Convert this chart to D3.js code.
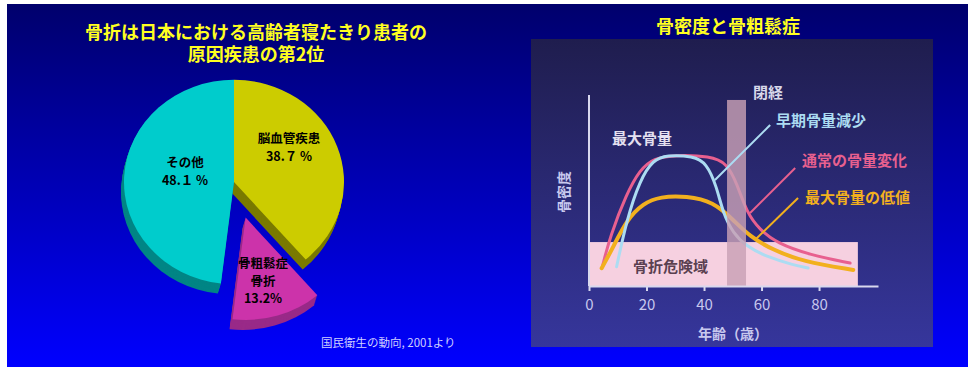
<!DOCTYPE html>
<html><head><meta charset="utf-8">
<script src="https://cdn.jsdelivr.net/npm/d3@7"></script>
<style>body{margin:0;background:#fff}svg{display:block}</style>
</head><body>
<svg id="c" width="969" height="368"></svg>
<script>
// ---------- data ----------
const pieCategories = ["脳血管疾患", "骨粗鬆症骨折", "その他"];
const pieValues = [38.7, 13.2, 48.1];
const pieLabels = [["脳血管疾患", "38.７ %"], ["骨粗鬆症", "骨折", "13.2%"], ["その他", "48.１ %"]];
const pieColors = ["#cccc00", "#cc33aa", "#00cccc"];
const pieDark = ["#7a7a00", "#992a88", "#008585"];

const xTicks = [0, 20, 40, 60, 80];
const normalAge = [4.8, 7.3, 13.1, 17.7, 22.3, 30.5, 42.1, 47.9, 51.4, 54.9, 59.5, 65.3, 76.9, 90.8];
const normalVal = [11, 25.8, 48.5, 60.7, 67, 68.6, 68, 64.4, 53.9, 38.2, 29.3, 22.5, 16.2, 12];
const earlyAge = [9.6, 13.1, 17.7, 22.3, 27, 36.2, 40.9, 44.4, 46.6, 50.1, 54.9, 61.8, 71, 76.2];
const earlyVal = [10.1, 34.6, 55.5, 66, 68.6, 68, 64.4, 52, 38.2, 27.7, 20.6, 15.3, 11, 9.4];
const lowAge = [4.4, 8.5, 13.1, 18.9, 24.7, 34, 43.2, 50.2, 56, 64.1, 74.5, 91.9];
const lowVal = [9.3, 20.6, 34.6, 43.3, 46.8, 47.1, 44.1, 34.6, 25.8, 18.8, 12.7, 8.4];
const riskZone = {age0: 0, age1: 93.5, val: 23};
const menopause = {age0: 48, age1: 54.6, val: 97.4};
const curveLabels = ["早期骨量減少", "通常の骨量変化", "最大骨量の低値"];

const svg = d3.select("#c");
const defs = svg.append("defs");
const bg = defs.append("linearGradient").attr("id", "bg").attr("x1", 0).attr("y1", 0).attr("x2", 0).attr("y2", 1);
bg.append("stop").attr("offset", "0%").attr("stop-color", "#00006c");
bg.append("stop").attr("offset", "100%").attr("stop-color", "#0000ff");
const pg = defs.append("linearGradient").attr("id", "pg").attr("x1", 0).attr("y1", 0).attr("x2", 0).attr("y2", 1);
pg.append("stop").attr("offset", "0%").attr("stop-color", "#1f1d4e");
pg.append("stop").attr("offset", "100%").attr("stop-color", "#36369c");

svg.append("rect").attr("x", 7).attr("y", 4).attr("width", 961).attr("height", 363).attr("fill", "url(#bg)");

const FONT = "'Noto Sans CJK JP', 'Noto Sans', sans-serif";

// ---------- left title ----------
const lt = svg.append("g").attr("font-family", FONT).attr("font-weight", 700).attr("font-size", 18)
  .attr("fill", "#ffff20").attr("text-anchor", "middle").attr("dominant-baseline", "central");
lt.append("text").attr("x", 256).attr("y", 31).text("骨折は日本における高齢者寝たきり患者の");
lt.append("text").attr("x", 256).attr("y", 53).text("原因疾患の第2位");

// ---------- pie ----------
const cx = 234, cy = 182, R = 110, ky = 0.93, depth = 10, explode = 40;
const pie = d3.pie().sort(null).value(d => d)(pieValues);
const arc = d3.arc().innerRadius(0).outerRadius(R);
const pg2 = svg.append("g").attr("transform", `translate(${cx},${cy})`);
function off(d, i) {
  if (i !== 1) return [0, 0];
  const m = (d.startAngle + d.endAngle) / 2;
  return [Math.sin(m) * explode, -Math.cos(m) * explode * ky];
}
pie.forEach((d, i) => {
  const [ox, oy] = off(d, i);
  for (let k = depth; k >= 1; k--) {
    pg2.append("path").attr("d", arc(d))
      .attr("transform", `translate(${ox - k * 0.3},${oy + k}) scale(1,${ky})`)
      .attr("fill", pieDark[i]);
  }
});
pie.forEach((d, i) => {
  const [ox, oy] = off(d, i);
  pg2.append("path").attr("d", arc(d))
    .attr("transform", `translate(${ox},${oy}) scale(1,${ky})`)
    .attr("fill", pieColors[i]);
});
const labelPos = [[55, -45], [29, 80], [-49, -21]];
pieLabels.forEach((lines, i) => {
  const t = pg2.append("text").attr("font-family", FONT).attr("font-weight", 700).attr("font-size", 12.5)
    .attr("fill", "#000").attr("text-anchor", "middle").attr("dominant-baseline", "central");
  lines.forEach((s, j) => t.append("tspan").attr("x", labelPos[i][0]).attr("y", labelPos[i][1] + j * 17.5).text(s));
});

svg.append("text").attr("x", 321).attr("y", 342).attr("font-family", FONT).attr("font-size", 11.5)
  .attr("fill", "#d0d0ff").attr("dominant-baseline", "central").text("国民衛生の動向, 2001より");

// ---------- right chart ----------
svg.append("text").attr("x", 728).attr("y", 25).attr("font-family", FONT).attr("font-weight", 700)
  .attr("font-size", 18).attr("fill", "#ffff20").attr("text-anchor", "middle").attr("dominant-baseline", "central")
  .text("骨密度と骨粗鬆症");
svg.append("rect").attr("x", 531).attr("y", 39).attr("width", 402).attr("height", 308).attr("fill", "url(#pg)");

const x = d3.scaleLinear().domain([0, 100.5]).range([589, 878]);
const y = d3.scaleLinear().domain([0, 100]).range([286, 95]);

svg.append("rect").attr("x", x(riskZone.age0)).attr("y", y(riskZone.val))
  .attr("width", x(riskZone.age1) - x(riskZone.age0)).attr("height", y(0) - y(riskZone.val))
  .attr("fill", "#f6d0e0");

const line = d3.line().x(d => x(d[0])).y(d => y(d[1])).curve(d3.curveBasis);
const series = [
  {age: normalAge, val: normalVal, color: "#e8608f", w: 3},
  {age: lowAge, val: lowVal, color: "#f2b01e", w: 4},
  {age: earlyAge, val: earlyVal, color: "#acdcf2", w: 3}
];
series.forEach(s => {
  svg.append("path").attr("d", line(s.age.map((a, i) => [a, s.val[i]])))
    .attr("fill", "none").attr("stroke", s.color).attr("stroke-width", s.w).attr("stroke-linecap", "round");
});

svg.append("rect").attr("x", x(menopause.age0)).attr("y", y(menopause.val))
  .attr("width", x(menopause.age1) - x(menopause.age0)).attr("height", y(0) - y(menopause.val))
  .attr("fill", "#c8a0b4").attr("opacity", 0.82);

// axes
const ax = svg.append("g").attr("transform", `translate(0,${y(0)})`)
  .call(d3.axisBottom(x).tickValues(xTicks).tickSize(5).tickSizeOuter(0).tickPadding(8));
ax.select(".domain").attr("stroke", "#d8d8ee").attr("stroke-width", 2);
ax.selectAll(".tick line").attr("stroke", "#d8d8ee").attr("stroke-width", 2);
ax.selectAll(".tick text").attr("font-family", FONT).attr("font-size", 15).attr("fill", "#c8c8ee");
svg.append("line").attr("x1", x(0)).attr("x2", x(0)).attr("y1", y(0)).attr("y2", y(100))
  .attr("stroke", "#d8d8ee").attr("stroke-width", 2);

svg.append("text").attr("x", 733).attr("y", 333).attr("font-family", FONT).attr("font-weight", 700)
  .attr("font-size", 14).attr("fill", "#c8c8ee").attr("text-anchor", "middle").attr("dominant-baseline", "central")
  .text("年齢（歳）");
svg.append("text").attr("transform", "translate(563,192) rotate(-90)").attr("font-family", FONT)
  .attr("font-weight", 700).attr("font-size", 14).attr("fill", "#c8c8ee").attr("text-anchor", "middle")
  .attr("dominant-baseline", "central").text("骨密度");

// annotations
const pointers = [
  {a: [43.8, 55.5], b: [63, 84.3], color: "#acdcf2", lx: 65, ly: 87.4, text: curveLabels[0]},
  {a: [56, 38.2], b: [71.7, 61.8], color: "#e8608f", lx: 74.1, ly: 66, text: curveLabels[1]},
  {a: [57.7, 24.1], b: [72.7, 46.1], color: "#f2b01e", lx: 75.1, ly: 47.1, text: curveLabels[2]}
];
pointers.forEach(p => {
  svg.append("line").attr("x1", x(p.a[0])).attr("y1", y(p.a[1])).attr("x2", x(p.b[0])).attr("y2", y(p.b[1]))
    .attr("stroke", p.color).attr("stroke-width", 2);
  svg.append("text").attr("x", x(p.lx)).attr("y", y(p.ly)).attr("font-family", FONT).attr("font-weight", 700)
    .attr("font-size", 15).attr("fill", p.color).attr("dominant-baseline", "central").text(p.text);
});
svg.append("text").attr("x", x(8)).attr("y", y(77.5)).attr("font-family", FONT).attr("font-weight", 700)
  .attr("font-size", 15).attr("fill", "#e4e0f0").attr("dominant-baseline", "central").text("最大骨量");
svg.append("text").attr("x", x(15.3)).attr("y", y(10.5)).attr("font-family", FONT).attr("font-weight", 700)
  .attr("font-size", 15).attr("fill", "#5a4050").attr("dominant-baseline", "central").text("骨折危険域");
svg.append("text").attr("x", x(57)).attr("y", y(101.6)).attr("font-family", FONT).attr("font-weight", 700)
  .attr("font-size", 15).attr("fill", "#d8d8ea").attr("dominant-baseline", "central").text("閉経");
</script>
</body></html>
